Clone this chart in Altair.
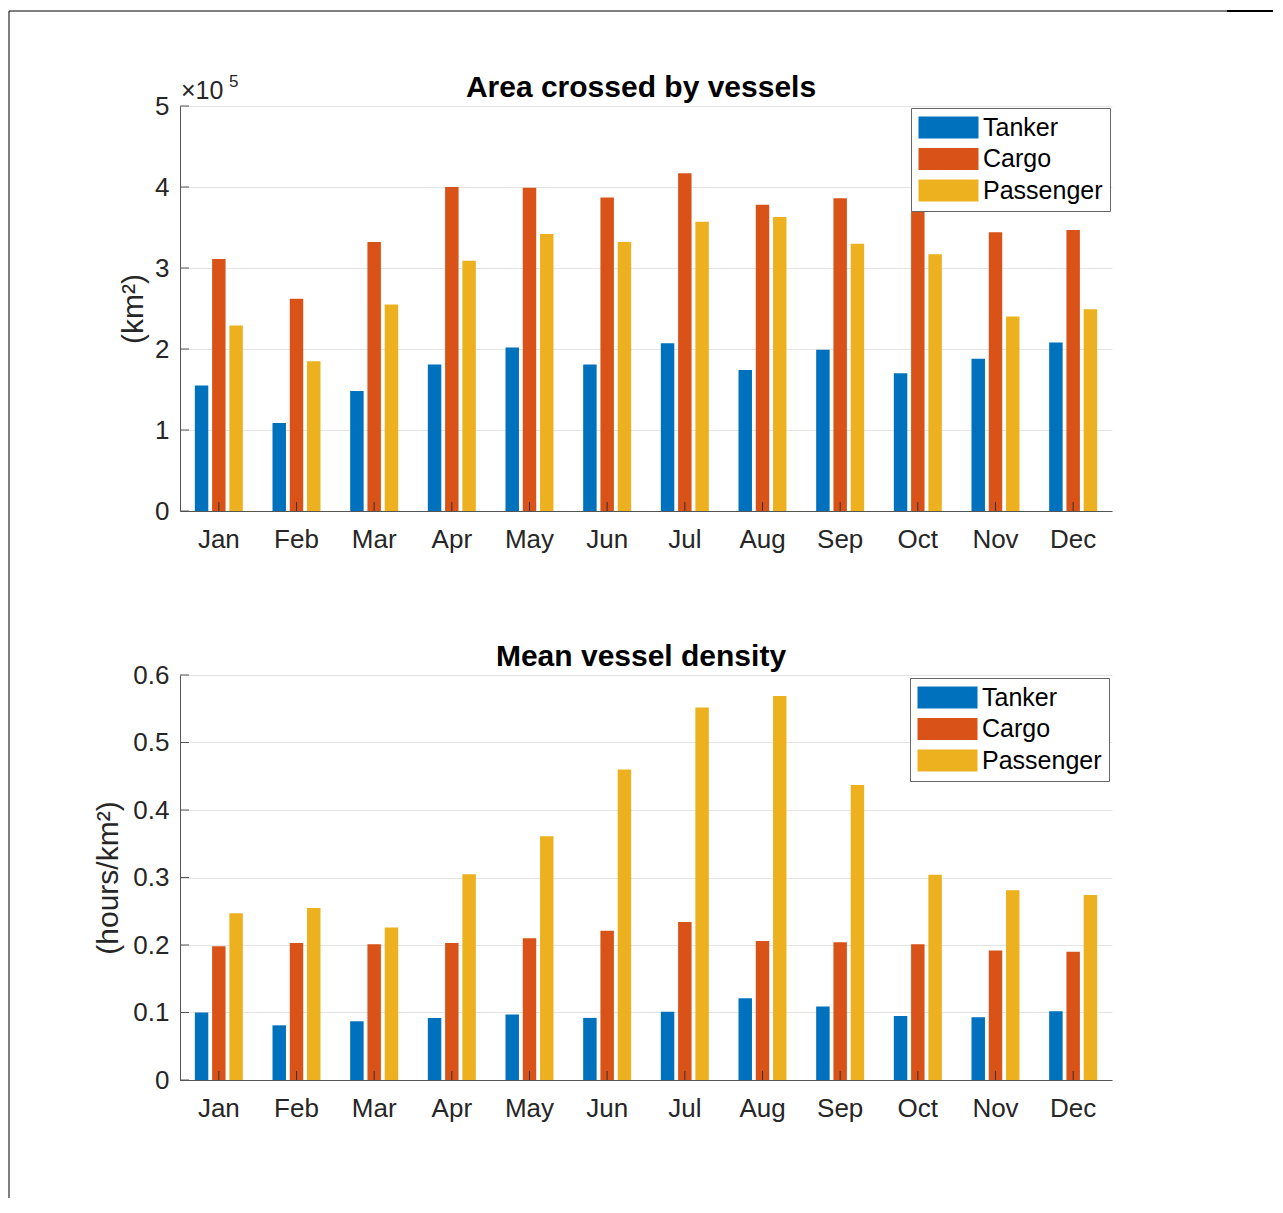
import altair as alt
import pandas as pd

months = ["Jan", "Feb", "Mar", "Apr", "May", "Jun", "Jul", "Aug", "Sep", "Oct", "Nov", "Dec"]
types = ["Tanker", "Cargo", "Passenger"]
colors = ["#0072BD", "#D95319", "#EDB120"]

# Area crossed by vessels (km^2)
area_tanker = [155000, 108700, 148000, 181000, 202000, 181000, 207000, 174000, 199000, 170000, 188000, 208000]
area_cargo = [311000, 262000, 332000, 400000, 399000, 387000, 417000, 378000, 386000, 370000, 344000, 347000]
area_passenger = [229000, 185000, 255000, 309000, 342000, 332000, 357000, 363000, 330000, 317000, 240000, 249000]
area_ticks = [0, 100000, 200000, 300000, 400000, 500000]

# Mean vessel density (hours/km^2)
dens_tanker = [0.100, 0.081, 0.087, 0.092, 0.097, 0.092, 0.101, 0.121, 0.109, 0.095, 0.093, 0.102]
dens_cargo = [0.198, 0.203, 0.201, 0.203, 0.210, 0.221, 0.234, 0.206, 0.204, 0.201, 0.192, 0.190]
dens_passenger = [0.247, 0.255, 0.226, 0.305, 0.361, 0.460, 0.552, 0.569, 0.437, 0.304, 0.281, 0.274]
dens_ticks = [0, 0.1, 0.2, 0.3, 0.4, 0.5, 0.6]

W, H = 932, 405
FONT = "Liberation Sans"
TXT = "#262626"
AXC = "#555555"


def long_df(series):
    rows = []
    for t, vals in zip(types, series):
        for m, v in zip(months, vals):
            rows.append({"month": m, "type": t, "value": v})
    return pd.DataFrame(rows)


def panel(series, ticks, ytitle, title_text, label_expr, title_pad, legend_offset, top=False):
    df = long_df(series)
    xs = alt.Scale(type="band", domain=months, paddingInner=0.382, paddingOuter=0.191)
    ys = alt.Scale(domain=[ticks[0], ticks[-1]], nice=False, zero=True)
    x_axis = alt.Axis(title=None, labelAngle=0, labelFontSize=26, labelFont=FONT,
                      labelColor=TXT, labelPadding=15, ticks=False, grid=False,
                      domainColor=AXC, domainWidth=1)
    y_axis = alt.Axis(title=ytitle, values=ticks, labelExpr=label_expr,
                      labelFontSize=26, labelFont=FONT, labelColor=TXT, labelPadding=11,
                      ticks=False, grid=True, gridColor="#e4e4e4", domainColor=AXC,
                      titleFontSize=30, titleFont=FONT, titleFontWeight="normal",
                      titleColor=TXT, titlePadding=title_pad)

    bars = alt.Chart(df).mark_bar().encode(
        x=alt.X("month:N", sort=months, scale=xs, axis=x_axis),
        xOffset=alt.XOffset("type:N", sort=types,
                            scale=alt.Scale(domain=types, paddingInner=0.22, paddingOuter=0)),
        y=alt.Y("value:Q", scale=ys, axis=y_axis),
        color=alt.Color("type:N", sort=types, scale=alt.Scale(domain=types, range=colors),
                        legend=alt.Legend(title=None, orient="top-right", offset=legend_offset,
                                          padding=7, strokeColor="#666666", fillColor="white",
                                          symbolType="M-1,-0.9167H4V0.9167H-1Z", symbolSize=576,
                                          symbolStrokeWidth=0, symbolOpacity=1,
                                          labelFontSize=25, labelFont=FONT, labelColor="black",
                                          labelOffset=40, rowPadding=5.5, labelLimit=400)),
    )

    xticks = alt.Chart(pd.DataFrame({"month": months})).mark_rule(color="#333333", strokeWidth=1).encode(
        x=alt.X("month:N", sort=months, scale=xs, bandPosition=0.5, axis=x_axis),
        y=alt.value(H),
        y2=alt.value(H - 9),
    )
    yticks = alt.Chart(pd.DataFrame({"value": ticks})).mark_rule(color=AXC, strokeWidth=1).encode(
        y=alt.Y("value:Q", scale=ys, axis=y_axis),
        x=alt.value(0),
        x2=alt.value(9),
    )
    title = alt.Chart(pd.DataFrame({"t": [title_text]})).mark_text(
        font=FONT, fontSize=30, fontWeight="bold", align="center", baseline="alphabetic", color="black"
    ).encode(text="t:N", x=alt.value(W / 2 - 5), y=alt.value(-9))

    layers = [bars, xticks, yticks, title]
    if top:
        one = pd.DataFrame({"a": [0]})
        times = alt.Chart(one).mark_text(font=FONT, fontSize=25, align="left", baseline="alphabetic",
                                         color=TXT).encode(text=alt.value("×10"), x=alt.value(1), y=alt.value(-7))
        sup = alt.Chart(one).mark_text(font=FONT, fontSize=17, align="left", baseline="alphabetic",
                                       color=TXT).encode(text=alt.value("5"), x=alt.value(49), y=alt.value(-19))
        ftop = alt.Chart(one).mark_rule(color="black", strokeWidth=1).encode(
            x=alt.value(-171), x2=alt.value(1093), y=alt.value(-95))
        fthick = alt.Chart(one).mark_rule(color="black", strokeWidth=2).encode(
            x=alt.value(1047), x2=alt.value(1093), y=alt.value(-95))
        fleft = alt.Chart(one).mark_rule(color="black", strokeWidth=1).encode(
            x=alt.value(-171), y=alt.value(-95), y2=alt.value(1092))
        layers += [times, sup, ftop, fthick, fleft]
    return alt.layer(*layers).properties(width=W, height=H)


top = panel([area_tanker, area_cargo, area_passenger], area_ticks, "(km²)", "Area crossed by vessels",
            "datum.value / 100000", 6, 2, top=True)
bottom = panel([dens_tanker, dens_cargo, dens_passenger], dens_ticks, "(hours/km²)", "Mean vessel density",
               "datum.value == 0 ? '0' : format(datum.value, '.1f')", 9, 3)

chart = alt.vconcat(top, bottom, spacing=164, bounds="flush").resolve_scale(
    color="independent"
).resolve_legend(color="independent").properties(
    padding={"left": 0, "top": 2, "right": 0, "bottom": 0}, background="white"
).configure_view(stroke=None)

chart.save("out.html", embed_options={"renderer": "svg", "actions": False})
